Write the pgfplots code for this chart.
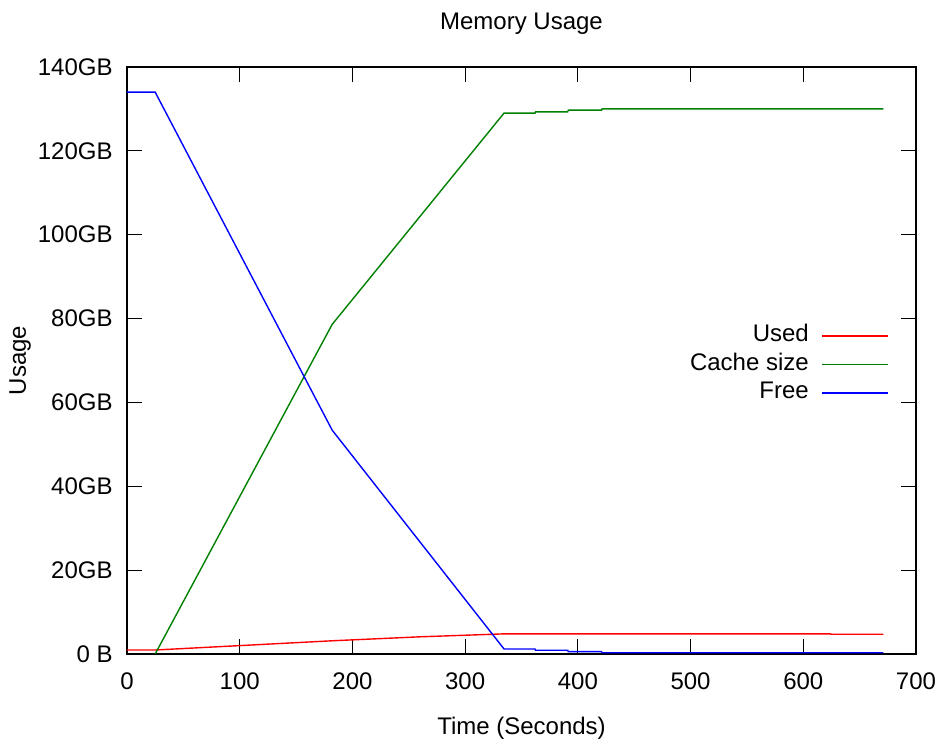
\documentclass[12pt,border=0pt]{standalone}
\usepackage{fontspec}
\setmainfont{Liberation Sans}
\usepackage{pgfplots}
\pgfplotsset{compat=1.18}
\begin{document}
\begin{tikzpicture}
\path[use as bounding box] (-63.5pt,-44pt) rectangle (407pt,327pt);
\begin{axis}[
  scale only axis,
  width=394.5pt, height=293.5pt,
  xmin=0, xmax=700, ymin=0, ymax=140,
  xtick={0,100,...,700},
  ytick={0,20,...,140},
  yticklabels={0 B,20GB,40GB,60GB,80GB,100GB,120GB,140GB},
  minor tick num=0,
  tick align=inside,
  tick pos=both,
  major tick length=7.3pt,
  tick style={black, line width=0.6pt},
  axis line style={black, line width=0.7pt},
  /pgf/number format/assume math mode=true,
  xticklabel style={yshift=-5pt},
  yticklabel style={xshift=-3pt},
  title={Memory Usage},
  title style={at={(axis description cs:0.5,1.053)}, anchor=center},
  xlabel={Time (Seconds)},
  xlabel style={at={(axis description cs:0.5,-0.126)}, anchor=center},
  ylabel={Usage},
  ylabel style={at={(axis description cs:-0.1356,0.5)}, anchor=center, rotate=0},
  legend plot pos=right,
  legend cell align=right,
  legend image code/.code={\draw[#1, line width=0.7pt] (0pt,0pt) -- (33pt,0pt);},
  legend style={draw=none, fill=none, inner sep=0pt, outer sep=0pt,
    at={(axis description cs:0.966,0.564)}, anchor=north east,
    row sep=1.25pt, column sep=5.5pt,
    nodes={inner sep=1pt, text height=8.5pt, text depth=2.5pt}},
]
\addplot[red, line width=0.7pt] coordinates {
(0,0.95) (25,0.95) (100,2.0) (182,3.15) (260,4.1) (334.5,4.8) (400,4.8) (500,4.8) (624,4.8) (625,4.7) (671,4.7)
};
\addlegendentry{Used}
\addplot[green!50!black, line width=0.7pt] coordinates {
(25,0) (182,78.6) (334.5,129.0) (362,129.0) (362.5,129.3) (391,129.3) (391.5,129.7) (421,129.7) (421.5,130.0) (671,130.0)
};
\addlegendentry{Cache size}
\addplot[blue, line width=0.7pt] coordinates {
(0,134.0) (25,134.0) (182,53.4) (334.5,1.2) (362,1.2) (362.5,0.9) (391,0.9) (391.5,0.55) (421,0.55) (421.5,0.3) (671,0.3)
};
\addlegendentry{Free}
\end{axis}
\end{tikzpicture}
\end{document}
